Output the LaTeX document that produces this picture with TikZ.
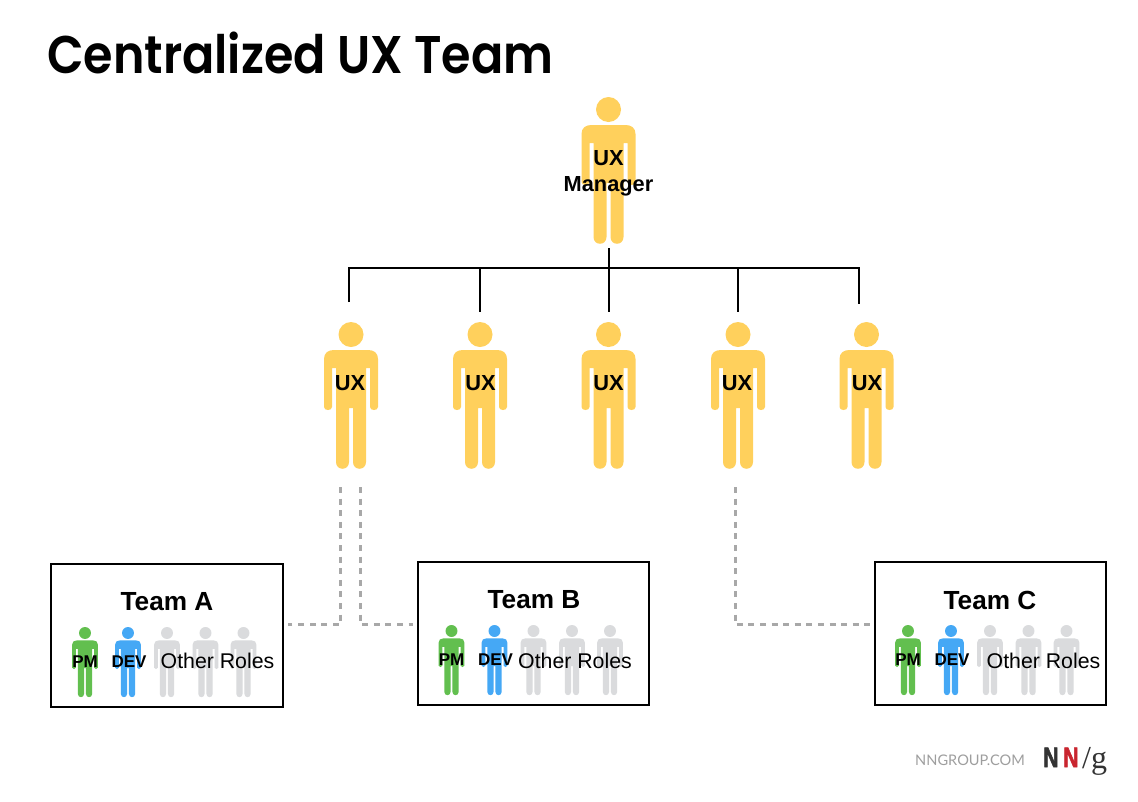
\documentclass[tikz,border=0pt]{standalone}
\usepackage{fontspec}
\setmainfont{Liberation Sans}
\newfontfamily\titlefont[UprightFont={* SemiBold}]{Poppins}
\newfontfamily\footfont{Lato}
\newfontfamily\logofont{Liberation Serif}
\newfontfamily\logosans[FakeBold=2.5]{Liberation Sans Bold}
\definecolor{uxc}{HTML}{FFD05C}
\definecolor{pmc}{HTML}{62BF4F}
\definecolor{devc}{HTML}{45A8F5}
\definecolor{othc}{HTML}{DADBDD}
\definecolor{dashc}{HTML}{A8A8A8}
\definecolor{logor}{HTML}{C9252F}
\definecolor{logok}{HTML}{333333}
\tikzset{x=1pt,y=-1pt,
 person/.pic={
  \fill (0,12.5) circle (12.5);
  \fill (-17,28) .. controls (-23,28) and (-27,31) .. (-27,37) -- (-27,85) .. controls (-27,89) and (-19,89) .. (-19,85) -- (-19,46) -- (-15,46) -- (-15,140) .. controls (-15,149) and (-2,149) .. (-2,140) -- (-2,86) -- (2,86) -- (2,140) .. controls (2,149) and (15,149) .. (15,140) -- (15,46) -- (19,46) -- (19,85) .. controls (19,89) and (27,89) .. (27,85) -- (27,37) .. controls (27,31) and (23,28) .. (17,28) -- cycle;
 },
 lab/.style={font=\bfseries\fontsize{21.8}{24}\selectfont,inner sep=0pt,text=black},
 slab/.style={font=\bfseries\fontsize{17}{18}\selectfont,inner sep=0pt,text=black},
 olab/.style={font=\fontsize{21.3}{24}\selectfont,inner sep=0pt,text=black},
 tlab/.style={font=\bfseries\fontsize{26.2}{28}\selectfont,inner sep=0pt,text=black},
 teambox/.style={draw=black,line width=2pt,fill=white,inner sep=0pt,outer sep=0pt,rectangle},
 tree/.style={draw=black,line width=1.8pt},
 dashline/.style={draw=dashc,line width=3pt,dash pattern=on 6pt off 5.6pt},
}
\newcommand{\smallrow}[2]{%
  \pic[fill=pmc,scale=.478] at (#1+34,#2) {person};
  \pic[fill=devc,scale=.478] at (#1+77,#2) {person};
  \pic[fill=othc,scale=.478] at (#1+116,#2) {person};
  \pic[fill=othc,scale=.478] at (#1+154.5,#2) {person};
  \pic[fill=othc,scale=.478] at (#1+192.5,#2) {person};
}
\begin{document}
\begin{tikzpicture}
\useasboundingbox (0,0) rectangle (1138,801);
\node[anchor=base west,inner sep=0pt,xscale=.899,font=\titlefont\fontsize{53}{60}\selectfont] (title) at (47,73) {Centralized UX Team};
% people
\pic[fill=uxc] at (608.5,97) {person};
\foreach \x in {351,480,608.5,738,866.5}{\pic[fill=uxc] at (\x,322) {person};}
\node[lab] (mgr1) at (608.5,158.5) {UX};
\node[lab] (mgr2) at (608.5,186) {Manager};
\node[lab] (u1) at (350,383) {UX};
\node[lab] (u2) at (480.5,383) {UX};
\node[lab] (u3) at (608.5,383) {UX};
\node[lab] (u4) at (737,383) {UX};
\node[lab] (u5) at (867,383) {UX};
% tree
\coordinate (mb) at (609,248);
\coordinate (mj) at (609,268);
\coordinate (t1) at (349,302);
\coordinate (t2) at (480,312);
\coordinate (t3) at (609,312);
\coordinate (t4) at (738,312);
\coordinate (t5) at (859,304);
\draw[tree] (mb) -- (t3);
\draw[tree] (t1) -- (t1|-mj) -- (t5|-mj) -- (t5);
\draw[tree] (t2|-mj) -- (t2);
\draw[tree] (t4|-mj) -- (t4);
% boxes
\node[teambox,anchor=north west,minimum width=232pt,minimum height=143pt] (A) at (51,564) {};
\node[teambox,anchor=north west,minimum width=231pt,minimum height=143pt] (B) at (418,562) {};
\node[teambox,anchor=north west,minimum width=231pt,minimum height=143pt] (C) at (875,562) {};
% dashed
\coordinate (d1) at (340.5,487);
\coordinate (d2) at (360.5,487);
\coordinate (d3) at (735,487);
\coordinate (h) at (0,624.5);
\draw[dashline] (d1) -- (d1|-h) -- ([xshift=5pt]A.east|-h);
\draw[dashline] (d2) -- (d2|-h) -- ([xshift=-5pt]B.west|-h);
\draw[dashline] (d3) -- (d3|-h) -- ([xshift=-5pt]C.west|-h);
% team A
\smallrow{51}{627}
\node[tlab] (ta) at (167,602) {Team A};
\node[slab] (a1) at (85,661.5) {PM};
\node[slab] (a2) at (129,661.5) {DEV};
\node[olab] (a3) at (217.5,660.5) {Other Roles};
% team B
\smallrow{417.5}{625}
\node[tlab] (tb) at (534,600) {Team B};
\node[slab] (b1) at (451.5,659.5) {PM};
\node[slab] (b2) at (495.5,659.5) {DEV};
\node[olab] (b3) at (575,660.5) {Other Roles};
% team C
\smallrow{874}{625}
\node[tlab] (tc) at (990,600) {Team C};
\node[slab] (c1) at (908,659.5) {PM};
\node[slab] (c2) at (952,659.5) {DEV};
\node[olab] (c3) at (1043.5,660.5) {Other Roles};
% footer
\node[anchor=base west,inner sep=0pt,text=black!38,font=\footfont\fontsize{14.6}{18}\selectfont] (nn) at (915,765) {NNGROUP.COM};
\node[anchor=base west,inner sep=0pt,text=logok,font=\logosans\fontsize{28}{32}\selectfont,xscale=.76] (n1) at (1043,767) {N};
\node[anchor=base west,inner sep=0pt,text=logor,font=\logosans\fontsize{28}{32}\selectfont,xscale=.76] (n2) at (1063,767) {N};
\node[anchor=base west,inner sep=0pt,text=logok,font=\logofont\fontsize{32}{34}\selectfont] (g) at (1082,768) {/g};
\end{tikzpicture}
\end{document}
